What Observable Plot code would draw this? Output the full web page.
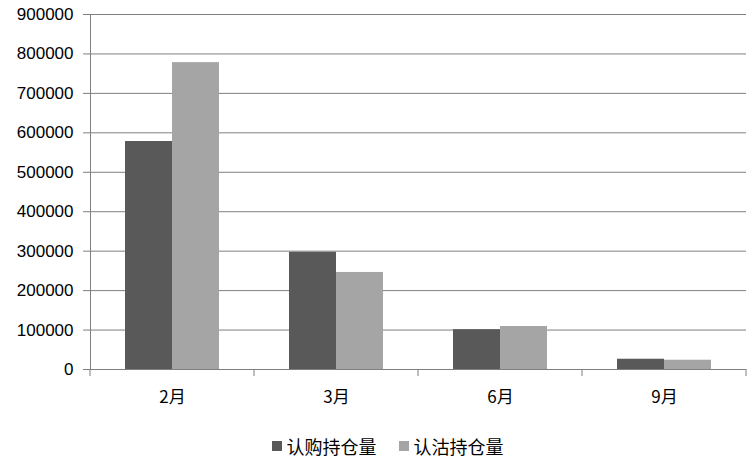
<!DOCTYPE html>
<html><head><meta charset="utf-8">
<script src="https://cdn.jsdelivr.net/npm/d3@7"></script>
<script src="https://cdn.jsdelivr.net/npm/@observablehq/plot@0.6"></script>
<style>
body{margin:0;background:#fff;font-family:"Liberation Sans","Noto Sans CJK SC",sans-serif;}
#legend{display:flex;justify-content:center;align-items:center;height:45px;font-size:18px;font-family:"Noto Sans CJK SC",sans-serif;padding-left:22px;padding-top:6px;box-sizing:border-box;color:#000;}
.item{display:flex;align-items:center;margin:0 11px;}
.sw{width:10px;height:10px;margin-right:5px;}
</style></head><body>
<div id="chart"></div><div id="legend"></div>
<script>
const months = ["2月","3月","6月","9月"];
const seriesNames = ["认购持仓量","认沽持仓量"];
const callOI = [578000, 297000, 101000, 26000];
const putOI = [778000, 246000, 109000, 23500];
const colors = ["#595959","#a5a5a5"];
const yTicks = [0,100000,200000,300000,400000,500000,600000,700000,800000,900000];

const data = months.flatMap((m,i)=>[
  {month:m, series:seriesNames[0], value:callOI[i]},
  {month:m, series:seriesNames[1], value:putOI[i]}
]);

const plot = Plot.plot({
  width:753, height:420, marginLeft:89, marginRight:6, marginTop:14, marginBottom:51,
  style:{fontFamily:'"Liberation Sans","Noto Sans CJK SC",sans-serif', fontSize:"17px", color:"#000", background:"#fff"},
  fx:{domain:months, padding:0, label:null, axis:null},
  x:{domain:seriesNames, paddingInner:0, paddingOuter:0.74, axis:null},
  y:{domain:[0,900000], label:null, axis:null},
  color:{domain:seriesNames, range:colors},
  marks:[
    Plot.gridY(yTicks,{stroke:"#7f7f7f", strokeOpacity:1}),
    Plot.barY(data,{fx:"month", x:"series", y:"value", fill:"series"}),
    Plot.axisY(yTicks,{tickSize:7, tickPadding:10, stroke:"#7f7f7f", strokeOpacity:1, fill:"#000", tickFormat:d=>String(d), fontSize:17, label:null}),
    Plot.axisFx({anchor:"bottom", tickSize:0, tickPadding:21, fontSize:17, fontFamily:'"Noto Sans CJK SC",sans-serif', fill:"#000", label:null}),
    Plot.frame({anchor:"left", facetAnchor:"left", stroke:"#7f7f7f", strokeOpacity:1})
  ]
});
document.getElementById("chart").appendChild(plot);

// boundary tick marks on the category axis
const fx = plot.scale("fx"), ys = plot.scale("y");
const y0 = ys.apply(0);
const edges = months.map(m=>fx.apply(m)).concat([fx.apply(months[months.length-1]) + fx.bandwidth]);
d3.select(plot).append("g").attr("stroke","#7f7f7f")
  .selectAll("line").data(edges).join("line")
  .attr("x1",d=>d).attr("x2",d=>d).attr("y1",y0).attr("y2",y0+7);

// legend
const lg = d3.select("#legend");
seriesNames.forEach((s,i)=>{
  const it = lg.append("div").attr("class","item");
  it.append("div").attr("class","sw").style("background",colors[i]);
  it.append("span").text(s);
});
</script>
</body></html>
